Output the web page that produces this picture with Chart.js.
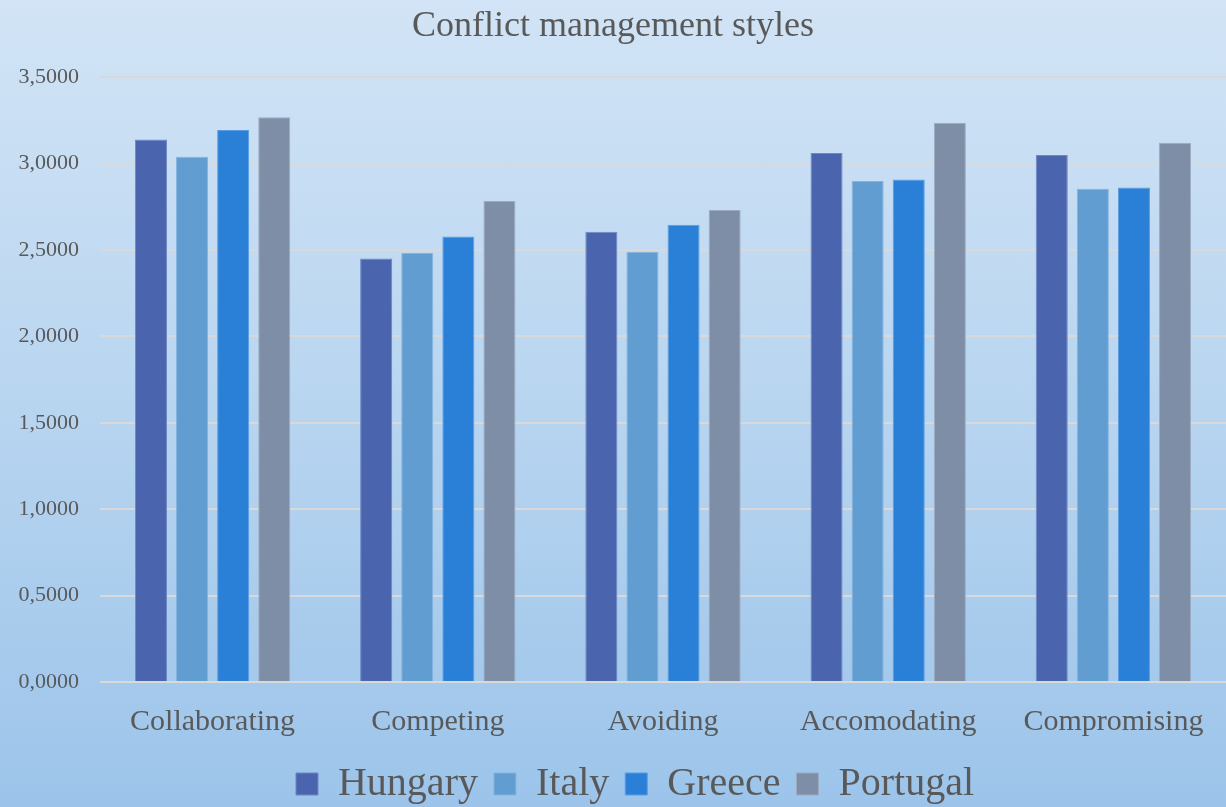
<!DOCTYPE html>
<html>
<head>
<meta charset="utf-8">
<script src="https://cdn.jsdelivr.net/npm/chart.js@4"></script>
<style>
  html, body { margin: 0; padding: 0; }
  #wrap {
    width: 1226px; height: 807px;
    background: linear-gradient(to bottom, #d2e4f6 0%, #b8d5f0 50%, #9cc4ea 100%);
  }
</style>
</head>
<body>
<div id="wrap"><canvas id="chart" width="1226" height="807"></canvas></div>
<script>
// categories + series
const categories = ["Collaborating", "Competing", "Avoiding", "Accomodating", "Compromising"];
const hungary  = [3.139, 2.451, 2.605, 3.062, 3.050];
const italy    = [3.039, 2.482, 2.490, 2.900, 2.854];
const greece   = [3.195, 2.578, 2.646, 2.908, 2.861];
const portugal = [3.268, 2.784, 2.732, 3.237, 3.120];

const serif = "'Liberation Serif', 'DejaVu Serif', serif";
const grey = "#595959";

const makeSet = (label, data, color, edge) => ({
    label, data,
    backgroundColor: color,
    borderColor: edge,
    borderWidth: 1,
    categoryPercentage: 0.73,
    barPercentage: 0.78
});

// nudge the legend a bit to the right, like the original
const legendShift = {
    id: "legendShift",
    afterLayout(chart) {
        if (chart.legend) {
            chart.legend.left += 22;
            chart.legend.right += 22;
        }
    }
};

new Chart(document.getElementById("chart").getContext("2d"), {
    type: "bar",
    data: {
        labels: categories,
        datasets: [
            makeSet("Hungary", hungary, "#4a65ad", "#6f86c2"),
            makeSet("Italy", italy, "#629dd1", "#85b4de"),
            makeSet("Greece", greece, "#2a7fd6", "#5b9de2"),
            makeSet("Portugal", portugal, "#7f8ea7", "#9eabbf")
        ]
    },
    plugins: [legendShift],
    options: {
        responsive: false,
        animation: false,
        layout: { padding: { left: 0, right: 0, top: 0, bottom: -7 } },
        plugins: {
            title: {
                display: true,
                text: "Conflict management styles",
                color: grey,
                font: { family: serif, size: 36, weight: "normal" },
                padding: { top: 5, bottom: 29 }
            },
            legend: {
                position: "bottom",
                labels: {
                    color: grey,
                    font: { family: serif, size: 40 },
                    boxWidth: 22,
                    boxHeight: 22,
                    padding: 16
                }
            },
            tooltip: { enabled: false }
        },
        scales: {
            x: {
                grid: { display: false },
                border: { display: false },
                ticks: {
                    color: grey,
                    font: { family: serif, size: 30 },
                    padding: 14,
                    maxRotation: 0,
                    autoSkip: false
                },
                afterFit: (scale) => { scale.height = 66; }
            },
            y: {
                min: 0,
                max: 3.5,
                grid: { color: "#d9d9d9", lineWidth: 2, drawTicks: false },
                border: { display: false },
                ticks: {
                    stepSize: 0.5,
                    color: grey,
                    font: { family: serif, size: 22 },
                    padding: 21,
                    callback: (v) => v.toFixed(4).replace(".", ",")
                },
                afterFit: (scale) => { scale.width = 100; }
            }
        }
    }
});
</script>
</body>
</html>
